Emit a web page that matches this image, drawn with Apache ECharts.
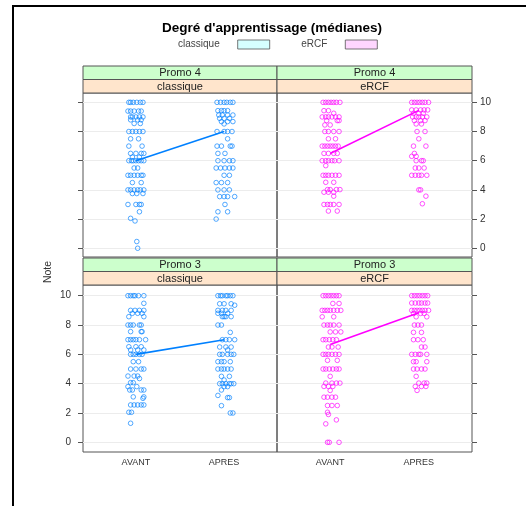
<!DOCTYPE html>
<html>
<head>
<meta charset="utf-8">
<script src="https://cdn.jsdelivr.net/npm/echarts@6/dist/echarts.min.js"></script>
<style>html,body{margin:0;padding:0;background:#fff;}#c{width:526px;height:506px;}</style>
</head>
<body>
<div id="c"></div>
<script>
// ---------- data ----------
const categories = ['AVANT', 'APRES'];
const yTickValues = [0, 2, 4, 6, 8, 10];
const promoLabels = ['Promo 4', 'Promo 3'];
const methodLabels = ['classique', 'eRCF'];
const titleText = "Degré d'apprentissage (médianes)";

// medians [AVANT, APRES]
const medP4Class = [6, 8];
const medP4Ercf = [6.5, 9.45];
const medP3Class = [6, 7];
const medP3Ercf = [6.67, 8.83];

// points: [horizontal jitter (category units), note]
const p4ClassAvant = [[-0.08,10],[-0.06,10],[-0.03,10],[0.01,10],[0.05,10],[0.08,10],
[-0.09,9.4],[-0.06,9.4],[-0.02,9.4],[0.03,9.4],[0.06,9.4],
[-0.06,9],[-0.04,9],[0,9],[0.04,9],[0.08,9],
[-0.06,8.8],[0.02,8.8],[0.06,8.8],[-0.02,8.55],[0.05,8.55],
[-0.08,8],[-0.04,8],[0,8],[0.04,8],[0.08,8],
[-0.06,7.5],[0.03,7.5],[-0.08,7],[0.07,7],
[-0.06,6.5],[0,6.5],[0.06,6.5],[0.09,6.5],[-0.04,6.25],[0.04,6.25],
[-0.08,6],[-0.05,6],[-0.03,6],[0,6],[0.03,6],[0.06,6],[0.09,6],
[-0.02,5.5],[0.02,5.5],
[-0.09,5],[-0.06,5],[-0.02,5],[0.02,5],[0.06,5],[0.08,5],
[-0.04,4.5],[0.06,4.5],
[-0.09,4],[-0.06,4],[-0.02,4],[0.02,4],[0.05,4],[0.09,4],
[-0.04,3.75],[0.01,3.75],[0.08,3.75],
[-0.09,3],[0,3],[0.04,3],[0.06,3],
[0.04,2.5],[-0.06,2.05],[-0.01,1.87],[0.01,0.46],[0.02,0]];
const p4ClassApres = [[-0.08,10],[-0.04,10],[0,10],[0.03,10],[0.07,10],[0.1,10],
[-0.07,9.43],[-0.03,9.43],[0,9.43],[0.04,9.43],
[-0.06,9.13],[-0.02,9.13],[0.04,9.13],[0.1,9.13],
[-0.05,8.9],[0,8.9],[0.06,8.9],[-0.03,8.68],[0.04,8.68],[0.1,8.68],[0,8.52],
[-0.08,8],[0,8],[0.04,8],[0.09,8],[0.04,7.5],
[-0.08,7],[-0.03,7],[0.07,7],[0.09,7],
[-0.07,6.5],[0.01,6.5],
[-0.07,6],[0,6],[0.06,6],[0.1,6],
[-0.09,5.5],[-0.04,5.5],[0.01,5.5],[0.06,5.5],[0.1,5.5],
[0,5],[0.06,5],
[-0.09,4.5],[-0.03,4.5],[0.04,4.5],
[-0.07,4],[0,4],[0.06,4],
[-0.05,3.54],[0,3.54],[0.04,3.54],[0.12,3.54],
[0.01,3],[-0.07,2.5],[0.04,2.5],[-0.09,2]];
const p4ErcfAvant = [[-0.08,10],[-0.05,10],[-0.02,10],[0.01,10],[0.04,10],[0.07,10],[0.11,10],
[-0.07,9.43],[-0.02,9.43],[0.04,9.25],
[-0.09,9],[-0.05,9],[-0.02,9],[0.02,9],[0.06,9],[0.1,9],
[-0.04,8.75],[0.08,8.75],[0.1,8.75],[-0.06,8.45],[0,8.45],
[-0.06,8],[-0.02,8],[0.04,8],[0.1,8],
[-0.02,7.5],[0.06,7.5],
[-0.09,7],[-0.06,7],[-0.03,7],[0,7],[0.03,7],[0.06,7],[0.09,7],
[-0.07,6.5],[-0.02,6.5],[0.04,6.5],[0.08,6.5],
[-0.09,6],[-0.05,6],[-0.02,6],[0.02,6],[0.05,6],[0.1,6],
[-0.05,5.66],
[-0.08,5],[-0.05,5],[-0.02,5],[0.02,5],[0.06,5],[0.1,5],
[-0.05,4.52],[0.04,4.52],
[-0.03,4.02],[0,4.02],[0.07,4.02],[0.11,4.02],
[-0.07,3.84],[-0.02,3.84],[0.04,3.84],[0.04,3.57],
[-0.07,3],[-0.03,3],[0,3],[0.04,3],[0.1,3],
[-0.02,2.55],[0.08,2.55]];
const p4ErcfApres = [[-0.08,10],[-0.05,10],[-0.02,10],[0.01,10],[0.04,10],[0.07,10],[0.11,10],
[-0.08,9.48],[-0.03,9.48],[0.02,9.48],[0.06,9.48],[0.1,9.48],
[-0.06,9.25],[0,9.25],[0.05,9.25],
[-0.07,9],[-0.03,9],[0,9],[0.04,9],[0.09,9],
[-0.05,8.75],[0.02,8.75],[0.07,8.75],[-0.03,8.52],[0.03,8.52],
[-0.02,8],[0.07,8],[0,7.5],[-0.06,7],[0.08,7],
[-0.05,6.5],[-0.08,6.3],[-0.03,6.3],
[-0.03,6],[0.03,6],[0.05,6],
[-0.04,5.5],[0,5.5],[0.06,5.5],
[-0.08,5],[-0.04,5],[0,5],[0.03,5],[0.09,5],
[0,4],[0.02,4],[0.08,3.57],[0.04,3.05]];
const p3ClassAvant = [[-0.09,10],[-0.06,10],[-0.03,10],[-0.01,10],[0.03,10],[0.09,10],
[0.09,9.48],
[-0.06,9],[-0.01,9],[0.04,9],[0.09,9],
[-0.04,8.8],[0.02,8.8],[0.07,8.8],[-0.08,8.57],[0.09,8.57],
[-0.09,8],[-0.06,8],[-0.03,8],[0.04,8],[0.06,8],
[-0.06,7.55],[0.06,7.55],[0.07,7.55],
[-0.09,7],[-0.06,7],[-0.03,7],[0,7],[0.04,7],[0.11,7],
[-0.08,6.52],[0,6.52],[0.06,6.52],
[-0.06,6.3],[0.02,6.3],[0.09,6.3],
[-0.06,6],[-0.03,6],[0,6],[0.04,6],[0.07,6],
[-0.03,5.5],[0.03,5.5],
[-0.06,5],[0,5],[0.06,5],[0.09,5],
[-0.09,4.52],[-0.02,4.52],[0.02,4.52],[0.04,4.35],
[-0.06,4.07],[-0.03,4.07],[-0.09,3.8],[0.01,3.8],
[-0.07,3.57],[-0.04,3.57],[0.06,3.57],[0.09,3.57],
[-0.03,3.1],[0.09,3.1],[0.08,3],
[-0.06,2.55],[-0.02,2.55],[0.02,2.55],[0.06,2.55],[0.09,2.55],
[-0.08,2.05],[-0.05,2.05],[-0.06,1.3]];
const p3ClassApres = [[-0.07,10],[-0.04,10],[-0.02,10],[0.02,10],[0.04,10],[0.07,10],[0.1,10],
[-0.05,9.45],[0,9.45],[0.08,9.45],[0.12,9.35],
[-0.07,9],[-0.02,9],[0.02,9],[0.08,9],
[-0.07,8.8],[-0.03,8.8],[0.04,8.8],
[-0.02,8.57],[0,8.57],[0.02,8.57],[0.08,8.57],
[-0.07,8],[-0.03,8],[0.07,7.5],
[-0.02,7],[0.02,7],[0.06,7],[0.12,7],
[-0.05,6.5],[0.02,6.5],[0.08,6.5],[0.04,6.3],
[-0.05,6],[-0.02,6],[0.04,6],[0.08,6],[0.11,6],
[-0.07,5.5],[-0.03,5.5],[0,5.5],[0.07,5.5],
[-0.07,5],[-0.03,5],[0,5],[0.04,5],[0.08,5],
[-0.03,4.5],[0.06,4.5],[0,4.25],
[-0.05,4],[-0.02,4],[0.02,4],[0.06,4],[0.08,4],[0.11,4],
[0,3.8],[0.04,3.8],[-0.03,3.57],[-0.07,3.2],
[0.04,3.05],[0.06,3.05],[-0.03,2.5],[0.07,2],[0.1,2]];
const p3ErcfAvant = [[-0.08,10],[-0.05,10],[-0.02,10],[0.01,10],[0.04,10],[0.07,10],[0.1,10],
[0.03,9.47],[0.1,9.47],
[-0.09,9],[-0.06,9],[-0.03,9],[0,9],[0.04,9],[0.08,9],[0.12,9],
[-0.09,8.56],[0.04,8.56],
[-0.07,8],[-0.03,8],[0,8],[0.04,8],[0.1,8],
[0,7.53],[0.06,7.53],[0.12,7.53],
[-0.08,7],[-0.05,7],[-0.01,7],[0.03,7],[0.07,7],
[-0.02,6.5],[0.02,6.5],[0.09,6.5],
[-0.08,6],[-0.05,6],[-0.02,6],[0.02,6],[0.06,6],[0.1,6],
[-0.03,5.59],[0.08,5.59],
[-0.08,5],[-0.05,5],[-0.01,5],[0.03,5],[0.07,5],[0.1,5],
[0,4.5],
[-0.05,4.04],[0.02,4.04],[0.07,4.04],[0.11,4.04],
[-0.07,3.81],[-0.02,3.81],[0.03,3.81],[0,3.54],
[-0.07,3.08],[-0.03,3.08],[0.02,3.08],[0.06,3.08],
[-0.03,2.51],[0.02,2.51],[0.08,2.51],
[-0.03,2.05],[-0.02,1.9],[0.07,1.53],[-0.05,1.26],
[-0.03,0],[-0.01,0],[0.1,0]];
const p3ErcfApres = [[-0.08,10],[-0.05,10],[-0.02,10],[0.01,10],[0.04,10],[0.07,10],[0.1,10],
[-0.08,9.5],[-0.04,9.5],[0,9.5],[0.03,9.5],[0.07,9.5],[0.1,9.5],
[-0.08,9],[-0.05,9],[-0.02,9],[0.01,9],[0.04,9],[0.07,9],[0.11,9],
[-0.06,8.79],[0.02,8.79],[0.06,8.79],[-0.03,8.56],[0.09,8.56],
[-0.05,8],[-0.01,8],[0.03,8],
[-0.06,7.5],[0.03,7.5],
[-0.06,7],[-0.01,7],[0.05,7],
[0.03,6.5],[0.07,6.5],
[-0.08,6],[-0.04,6],[0,6],[0.02,6],[0.09,6],
[-0.06,5.5],[-0.03,5.5],[0.09,5.5],
[-0.06,5],[-0.02,5],[0.03,5],[0.07,5],
[-0.03,4.5],
[0,4.04],[0.06,4.04],[0.09,4.04],
[-0.04,3.81],[0.03,3.81],[0.08,3.81],[-0.02,3.54]];

// ---------- layout / style ----------
const FONT = 'Liberation Sans, Arial, sans-serif';
const colors = ['#0080ff', '#ff00ff'];
const legendFill = ['#ccffff', '#ffccff'];
const X0 = 83, XM = 277, X1 = 472;
const rows = [
  {top: 93, bottom: 257, ymin: -0.6, ymax: 10.64, stripTop: 66},
  {top: 285, bottom: 452, ymin: -0.66, ymax: 10.73, stripTop: 258}
];
const panels = [
  {row: 0, col: 0, promo: 0, method: 0, avant: p4ClassAvant, apres: p4ClassApres, med: medP4Class},
  {row: 0, col: 1, promo: 0, method: 1, avant: p4ErcfAvant, apres: p4ErcfApres, med: medP4Ercf},
  {row: 1, col: 0, promo: 1, method: 0, avant: p3ClassAvant, apres: p3ClassApres, med: medP3Class},
  {row: 1, col: 1, promo: 1, method: 1, avant: p3ErcfAvant, apres: p3ErcfApres, med: medP3Ercf}
];

const grids = [], xAxes = [], yAxes = [], series = [], graphics = [];
panels.forEach((p, i) => {
  const r = rows[p.row];
  const left = p.col === 0 ? X0 : XM;
  const right = p.col === 0 ? XM : X1;
  grids.push({left: left, top: r.top, width: right - left, height: r.bottom - r.top,
    show: true, borderColor: '#555', borderWidth: 1, backgroundColor: 'transparent', containLabel: false});
  const showX = p.row === 1;
  xAxes.push({type: 'value', gridIndex: i, min: 0.4, max: 2.6,
    axisLine: {show: false}, axisTick: {show: false}, splitLine: {show: false},
    axisLabel: {show: showX, customValues: [1, 2], margin: 6, fontSize: 9, color: '#333', fontFamily: FONT,
      formatter: v => categories[Math.round(v) - 1] || ''}});
  const pos = p.col === 0 ? 'left' : 'right';
  const showY = (p.row === 0 && p.col === 1) || (p.row === 1 && p.col === 0);
  yAxes.push({type: 'value', gridIndex: i, position: pos, min: r.ymin, max: r.ymax,
    axisLine: {show: false},
    axisTick: {show: true, length: 5, customValues: yTickValues, lineStyle: {color: '#555'}},
    splitLine: {show: true, lineStyle: {color: '#ececec', width: 1}},
    axisLabel: {show: showY, customValues: yTickValues, margin: p.col === 0 ? 12 : 8,
      fontSize: 10, color: '#333', fontFamily: FONT, formatter: v => String(Math.round(v))}});
  const col = colors[p.method];
  const name = methodLabels[p.method];
  const pts = p.avant.map(d => [1 + d[0], d[1]]).concat(p.apres.map(d => [2 + d[0], d[1]]));
  series.push({type: 'scatter', name: name, xAxisIndex: i, yAxisIndex: i, data: pts,
    symbol: 'circle', symbolSize: 4.6, silent: true,
    itemStyle: {color: 'rgba(255,255,255,0)', borderColor: col, borderWidth: 0.85, opacity: 0.8}});
  series.push({type: 'line', name: name, xAxisIndex: i, yAxisIndex: i, z: 5,
    data: [[1, p.med[0]], [2, p.med[1]]], symbol: 'none', silent: true,
    lineStyle: {color: col, width: 1.6}});
  // strips
  const sTop = r.stripTop, sMid = (sTop + r.top) / 2;
  graphics.push({type: 'rect', shape: {x: left, y: sTop, width: right - left, height: sMid - sTop},
    style: {fill: '#ccffcc', stroke: '#555', lineWidth: 1}, z: 10});
  graphics.push({type: 'rect', shape: {x: left, y: sMid, width: right - left, height: r.top - sMid},
    style: {fill: '#ffe5cc', stroke: '#555', lineWidth: 1}, z: 10});
  graphics.push({type: 'text', x: (left + right) / 2, y: (sTop + sMid) / 2 + 0.5, z: 11,
    style: {text: promoLabels[p.promo], fill: '#222', font: '11px ' + FONT, align: 'center', verticalAlign: 'middle'}});
  graphics.push({type: 'text', x: (left + right) / 2, y: (sMid + r.top) / 2 + 0.5, z: 11,
    style: {text: methodLabels[p.method], fill: '#222', font: '11px ' + FONT, align: 'center', verticalAlign: 'middle'}});
});

graphics.push({type: 'rect', shape: {x: 13, y: 6, width: 700, height: 700},
  style: {fill: 'none', stroke: '#000', lineWidth: 2}, z: 20});
graphics.push({type: 'text', x: 48, y: 272, rotation: Math.PI / 2,
  style: {text: 'Note', fill: '#333', font: '10.5px ' + FONT, align: 'center', verticalAlign: 'middle'}});

const chart = echarts.init(document.getElementById('c'), null, {renderer: 'canvas'});
chart.setOption({
  animation: false,
  backgroundColor: '#fff',
  textStyle: {fontFamily: FONT},
  title: {text: titleText, left: 162, top: 21, padding: 0,
    textStyle: {fontSize: 13.5, fontWeight: 'bold', color: '#000', fontFamily: FONT}},
  legend: {left: 178, top: 39.5, padding: 0, align: 'right', itemWidth: 32, itemHeight: 9, itemGap: 31,
    icon: 'rect', selectedMode: false,
    textStyle: {fontSize: 10, color: '#444', fontFamily: FONT, padding: [0, 13, 0, 0]},
    data: methodLabels.map((m, k) => ({name: m, icon: 'rect',
      itemStyle: {color: legendFill[k], borderColor: '#555', borderWidth: 1}}))},
  grid: grids,
  xAxis: xAxes,
  yAxis: yAxes,
  series: series,
  graphic: graphics
});
</script>
</body>
</html>
